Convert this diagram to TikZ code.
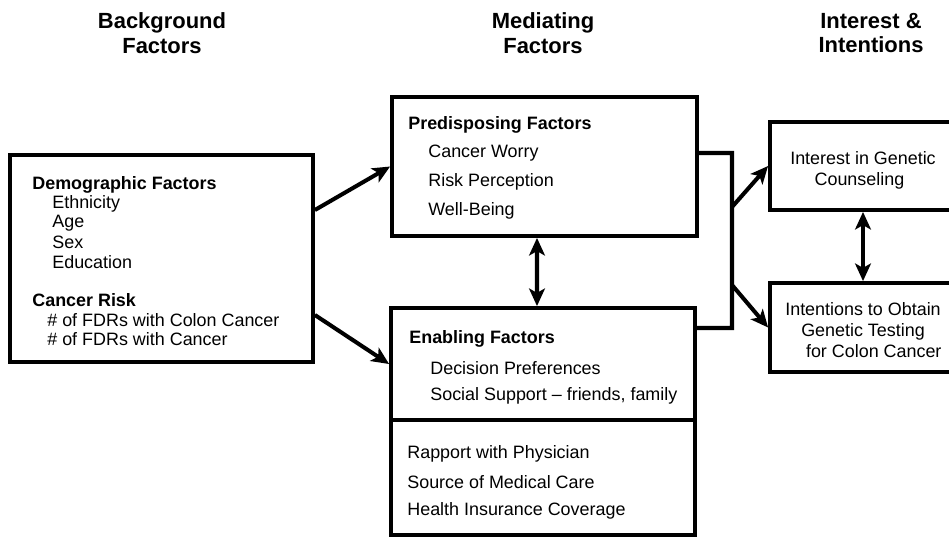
\documentclass[tikz,border=0pt]{standalone}
\usepackage{fontspec}
\setmainfont{Liberation Sans}
\usetikzlibrary{arrows.meta}
\tikzset{box/.append style={draw, line width=2.2pt, inner sep=0pt}}
\tikzset{item/.append style={anchor=west, inner sep=0pt, font=\fontsize{10.2}{12}\selectfont}}
\tikzset{head/.append style={item, font=\fontsize{10.2}{12}\selectfont\bfseries}}
\tikzset{col/.append style={align=center, font=\fontsize{12.5}{14.2}\selectfont\bfseries}}
\tikzset{link/.append style={line width=2.3pt}}
\tikzset{arr/.append style={link, -{Stealth[length=10pt, width=9pt, inset=2.5pt]}}}
\tikzset{arrs/.append style={link, {Stealth[length=10pt, width=9pt, inset=2.5pt]}-{Stealth[length=10pt, width=9pt, inset=2.5pt]}}}

\begin{document}
\begin{tikzpicture}[x=0.02cm, y=-0.02cm]
                \useasboundingbox (0,0) rectangle (949,538);
                \clip (0,0) rectangle (949,538);
                % column titles
                \node[col] (colbg) at (162,33) {Background\\Factors};
                \node[col] (colmed) at (543,33) {Mediating\\Factors};
                \node[col] (colint) at (871,33) {Interest \&\\Intentions};
                % boxes
                \node[box, minimum width=6.06cm, minimum height=4.14cm] (bg) at (161.5,258.5) {};
                \node[box, minimum width=6.1cm, minimum height=2.78cm] (pred) at (544.5,166.5) {};
                \node[box, minimum width=6.08cm, minimum height=2.24cm] (enabTop) at (543,364) {};
                \node[box, minimum width=6.08cm, minimum height=2.3cm] (enabBot) at (543,477.5) {};
                \node[box, minimum width=3.8cm, minimum height=1.76cm] (intr) at (865,166) {};
                \node[box, minimum width=3.8cm, minimum height=1.78cm] (intent) at (865,327.5) {};
                % background factors
                \node[head] (demo) at (32,185) {Demographic Factors};
                \foreach [count=\i] \t/\y in {Ethnicity/204, Age/223, Sex/242, Education/262}
                    \node[item] (d\i) at (52,\y) {\t};
                \node[head] (risk) at (32,300) {Cancer Risk};
                \foreach [count=\i] \t/\y in {\# of FDRs with Colon Cancer/320, \# of FDRs with Cancer/339}
                    \node[item] (r\i) at (47,\y) {\t};
                % mediating factors
                \node[head] (predT) at (408,125) {Predisposing Factors};
                \foreach [count=\i] \t/\y in {Cancer Worry/153, Risk Perception/182, Well-Being/211}
                    \node[item] (p\i) at (428,\y) {\t};
                \node[head] (enabT) at (409,339) {Enabling Factors};
                \foreach [count=\i] \t/\y in {Decision Preferences/368, Social Support -- friends{,} family/396}
                    \node[item] (e\i) at (430,\y) {\t};
                \foreach [count=\i] \t/\y in {Rapport with Physician/454, Source of Medical Care/482, Health Insurance Coverage/511}
                    \node[item] (s\i) at (407,\y) {\t};
                % outcomes
                \node[item, anchor=center, align=center] (intrT) at (863,170) {Interest in Genetic\\\hspace*{-0.4em}Counseling};
                \node[item, anchor=center, align=center] (intentT) at (863,330) {Intentions to Obtain\\Genetic Testing\\\hspace*{1.2em}for Colon Cancer};
                % connectors
                \coordinate (jt) at (732,153);
                \coordinate (jb) at (732,328);
                \coordinate (ja) at (732,207);
                \coordinate (jc) at (732,285);
                \draw[arr] ([yshift=0.97cm]bg.east) -- (pred.west);
                \draw[arr] ([yshift=-1.13cm]bg.east) -- (enabTop.west);
                \draw[link] ([yshift=0.27cm]pred.east) -- (jt) -- (jb) -- ([yshift=0.72cm]enabTop.east);
                \draw[arr] (ja) -- (intr.west);
                \draw[arr] (jc) -- (intent.west);
                \draw[arrs] ([xshift=-0.15cm]pred.south) -- ([xshift=-0.12cm]enabTop.north);
                \draw[arrs] ([xshift=-0.04cm]intr.south) -- ([xshift=-0.04cm]intent.north);
            \end{tikzpicture}
\end{document}
